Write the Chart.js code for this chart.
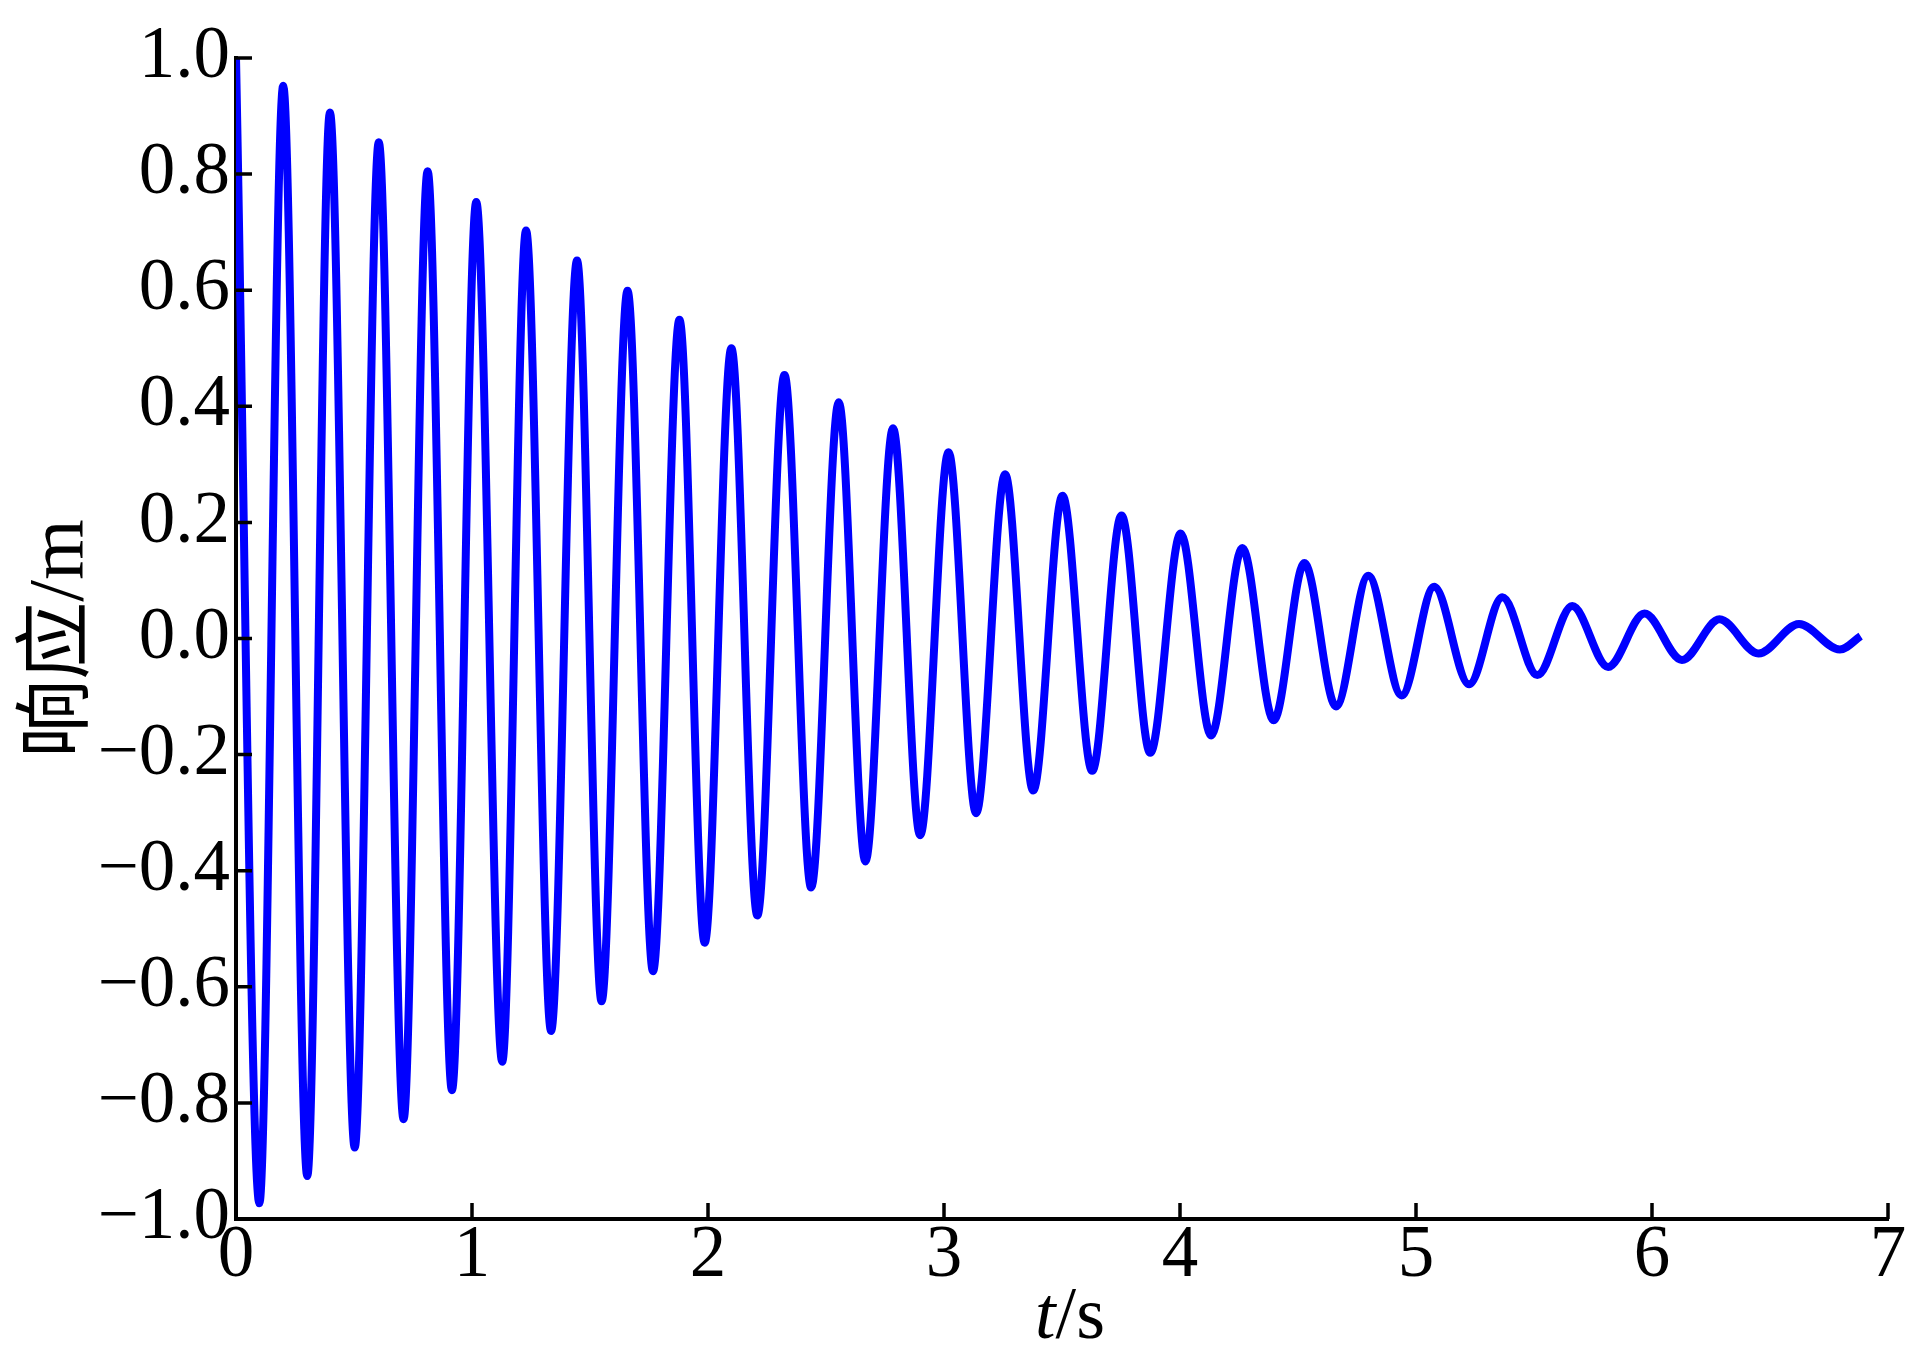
<!DOCTYPE html>
<html>
<head>
<meta charset="utf-8">
<script src="https://cdn.jsdelivr.net/npm/chart.js@4.4.0/dist/chart.umd.min.js"></script>
<style>
  html, body { margin: 0; padding: 0; background: #fff; }
  #wrap { width: 1909px; height: 1360px; position: relative; }
</style>
</head>
<body>
<div id="wrap"><canvas id="myChart"></canvas></div>
<script>
// peaks and troughs of the response
const times = [0, 0.099, 0.200, 0.302, 0.398, 0.503, 0.605, 0.710, 0.812, 0.915,
  1.018, 1.128, 1.229, 1.335, 1.445, 1.549, 1.659, 1.767, 1.879, 1.986,
  2.099, 2.209, 2.324, 2.437, 2.554, 2.667, 2.784, 2.899, 3.019, 3.136,
  3.259, 3.378, 3.502, 3.628, 3.752, 3.874, 4.003, 4.132, 4.264, 4.397,
  4.527, 4.661, 4.798, 4.939, 5.077, 5.225, 5.366, 5.514, 5.662, 5.814,
  5.968, 6.127, 6.286, 6.451, 6.623, 6.796, 6.884]
const response = [1.0, -0.973, 0.952, -0.926, 0.906, -0.877, 0.855, -0.828, 0.805, -0.778,
  0.752, -0.729, 0.703, -0.676, 0.651, -0.625, 0.599, -0.573, 0.549, -0.524,
  0.500, -0.477, 0.454, -0.429, 0.407, -0.384, 0.362, -0.339, 0.321, -0.301,
  0.283, -0.262, 0.246, -0.228, 0.212, -0.197, 0.181, -0.167, 0.156, -0.141,
  0.130, -0.117, 0.108, -0.098, 0.089, -0.079, 0.071, -0.063, 0.056, -0.049,
  0.043, -0.037, 0.033, -0.026, 0.025, -0.019, 0.004]

const xTicks = [0, 1, 2, 3, 4, 5, 6, 7]
const yTicks = [-1.0, -0.8, -0.6, -0.4, -0.2, 0.0, 0.2, 0.4, 0.6, 0.8, 1.0]
const yTitle = '响应/m'
const xTitleItalic = 't'
const xTitleRest = '/s'

const SERIF = "'Liberation Serif', 'Times New Roman', 'Noto Sans CJK SC', serif"

const points = times.map((t, i) => ({ x: t, y: response[i] }))

// ticks point inward in the original, and the x title has an italic t
const extras = {
  id: 'extras',
  afterDraw(chart) {
    const { ctx, chartArea: a, scales: { x, y } } = chart
    ctx.save()
    ctx.strokeStyle = '#000'
    ctx.lineWidth = 3.5
    ctx.beginPath()
    xTicks.forEach(v => {
      const px = x.getPixelForValue(v)
      ctx.moveTo(px, a.bottom)
      ctx.lineTo(px, a.bottom - 16)
    })
    yTicks.forEach(v => {
      const py = y.getPixelForValue(v)
      ctx.moveTo(a.left, py)
      ctx.lineTo(a.left + 16, py)
    })
    ctx.stroke()

    ctx.fillStyle = '#000'
    ctx.textBaseline = 'alphabetic'
    ctx.font = 'italic 74px ' + SERIF
    const w1 = ctx.measureText(xTitleItalic).width
    ctx.font = '74px ' + SERIF
    const w2 = ctx.measureText(xTitleRest).width
    const sx = (a.left + a.right) / 2 + 8 - (w1 + w2) / 2
    const by = a.bottom + 119
    ctx.font = 'italic 74px ' + SERIF
    ctx.fillText(xTitleItalic, sx, by)
    ctx.font = '74px ' + SERIF
    ctx.fillText(xTitleRest, sx + w1, by)
    ctx.restore()
  }
}

new Chart(document.getElementById('myChart'), {
  type: 'line',
  data: {
    datasets: [{
      data: points,
      borderColor: '#0000ff',
      borderWidth: 8,
      pointRadius: 0,
      fill: false,
      cubicInterpolationMode: 'monotone'
    }]
  },
  options: {
    responsive: true,
    maintainAspectRatio: false,
    animation: false,
    layout: { padding: { top: 58, right: 21, left: 0, bottom: 0 } },
    plugins: { legend: { display: false }, tooltip: { enabled: false } },
    scales: {
      x: {
        type: 'linear',
        min: 0,
        max: 7,
        afterBuildTicks: s => { s.ticks = xTicks.map(v => ({ value: v })) },
        afterFit: s => { s.height = 141 },
        grid: { display: false, drawTicks: false },
        border: { display: true, color: '#000', width: 4 },
        ticks: {
          color: '#000',
          padding: -6,
          maxRotation: 0,
          autoSkip: false,
          font: { family: SERIF, size: 73 },
          callback: v => String(v)
        }
      },
      y: {
        type: 'linear',
        min: -1,
        max: 1,
        afterBuildTicks: s => { s.ticks = yTicks.map(v => ({ value: v })) },
        afterFit: s => { s.width = 236 },
        grid: { display: false, drawTicks: false },
        border: { display: true, color: '#000', width: 4 },
        ticks: {
          color: '#000',
          padding: 6,
          autoSkip: false,
          font: { family: SERIF, size: 73 },
          callback: v => v.toFixed(1).replace('-', '\u2212')
        },
        title: {
          display: true,
          text: yTitle,
          color: '#000',
          padding: { top: 15, bottom: 0 },
          font: { family: SERIF, size: 78 }
        }
      }
    }
  },
  plugins: [extras]
})
</script>
</body>
</html>
